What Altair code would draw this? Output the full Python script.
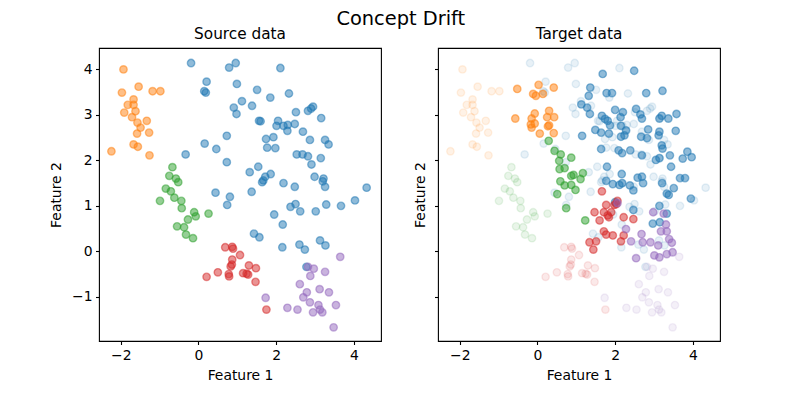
import altair as alt
import pandas as pd

# ---------------- Source data (left panel) ----------------
src_blue = [(-0.19, 4.14), (0.79, 4.04), (0.96, 4.14), (0.21, 3.73), (0.99, 3.68),
            (0.15, 3.52), (0.19, 3.49), (1.12, 3.30), (0.91, 3.16), (0.98, 3.02),
            (0.73, 2.54), (0.16, 2.37), (0.46, 2.25), (-0.33, 2.13), (0.73, 1.96),
            (0.44, 1.29), (0.81, 1.20), (0.74, 1.02),
            (2.11, 4.03), (1.51, 3.55), (1.85, 3.38), (2.33, 3.47), (1.38, 3.20),
            (2.51, 3.06), (2.82, 3.09), (2.90, 3.14), (2.95, 3.18), (3.16, 2.93),
            (1.56, 2.87), (1.60, 2.86), (2.05, 2.87), (2.01, 2.76), (2.19, 2.76),
            (2.30, 2.78), (2.48, 2.80), (2.29, 2.65), (2.69, 2.63), (2.87, 2.45),
            (3.26, 2.45), (3.35, 2.35), (1.74, 2.47), (1.93, 2.51), (1.77, 2.28),
            (1.98, 2.27), (2.53, 2.13), (2.68, 2.13), (2.82, 2.09), (3.15, 2.05),
            (2.91, 1.91), (1.54, 1.86), (1.32, 1.74), (1.86, 1.70), (1.72, 1.64),
            (1.67, 1.56), (1.64, 1.52), (2.99, 1.64), (3.22, 1.60), (3.20, 1.54),
            (3.26, 1.42), (2.19, 1.50), (2.48, 1.42), (1.37, 1.31), (4.33, 1.40),
            (4.03, 1.12),
            (2.37, 0.98), (2.50, 1.04), (2.62, 0.88), (3.02, 0.88), (3.29, 1.03),
            (3.67, 1.00), (1.95, 0.81), (2.17, 0.59), (1.43, 0.39), (1.57, 0.31),
            (2.16, 0.09), (2.60, 0.15), (2.74, 0.04), (3.13, 0.24), (3.27, 0.13),
            (2.78, -0.34)]
src_orange = [(-1.93, 4.00), (-1.54, 3.62), (-1.97, 3.49), (-1.18, 3.52), (-0.98, 3.52),
              (-1.67, 3.34), (-1.82, 3.22), (-1.67, 3.22), (-1.62, 3.08), (-1.91, 3.05),
              (-1.71, 2.95), (-1.33, 2.87), (-1.57, 2.83), (-1.49, 2.72), (-1.27, 2.61),
              (-1.58, 2.59), (-1.67, 2.35), (-1.56, 2.30), (-2.24, 2.20), (-1.26, 2.11)]
src_green = [(-0.67, 1.85), (-0.75, 1.66), (-0.58, 1.60), (-0.52, 1.52), (-0.84, 1.38),
             (-0.71, 1.32), (-0.62, 1.18), (-0.99, 1.11), (-0.44, 1.11), (-0.43, 0.95),
             (-0.11, 0.86), (-0.07, 0.77), (0.26, 0.83), (-0.27, 0.70), (-0.55, 0.55),
             (-0.37, 0.53), (-0.32, 0.37), (-0.14, 0.29)]
src_red = [(0.69, 0.09), (0.87, 0.10), (0.89, 0.06), (1.07, -0.08), (0.87, -0.18),
           (0.83, -0.33), (0.86, -0.29), (0.50, -0.46), (0.78, -0.50), (0.79, -0.55),
           (0.21, -0.56), (1.15, -0.48), (1.24, -0.49), (1.28, -0.51), (1.30, -0.31),
           (1.48, -0.37), (1.47, -0.67), (1.75, -1.28)]
src_purple = [(2.82, -0.34), (2.97, -0.38), (3.65, -0.12), (3.26, -0.45), (2.88, -0.54),
              (2.61, -0.72), (3.12, -0.83), (3.36, -0.90), (2.79, -0.90), (2.70, -1.01),
              (1.73, -1.02), (2.87, -1.12), (3.09, -1.18), (3.54, -1.18), (2.29, -1.24),
              (2.55, -1.28), (3.13, -1.28), (2.95, -1.34), (3.19, -1.34), (3.48, -1.67)]

# ---------------- Target data (right panel) ----------------
tgt_blue = [(1.68, 3.90), (1.36, 3.60), (1.32, 3.42), (1.78, 3.48), (1.13, 3.23),
            (1.28, 3.16), (1.35, 3.02), (1.66, 2.98), (1.74, 2.91), (1.81, 2.87),
            (1.49, 2.67), (1.64, 2.61), (1.84, 2.59), (1.15, 2.54), (1.64, 2.25),
            (2.49, 3.97), (1.92, 3.48), (2.80, 3.48), (3.22, 3.53), (2.00, 3.11),
            (2.20, 3.06), (2.54, 3.13), (2.65, 3.01), (2.69, 2.92), (2.14, 2.95),
            (1.87, 2.77), (2.15, 2.76), (3.14, 2.92), (3.20, 2.98), (3.37, 2.92),
            (3.58, 3.02), (2.28, 2.66), (2.24, 2.55), (2.15, 2.52), (2.85, 2.68),
            (3.14, 2.63), (3.12, 2.55), (3.56, 2.65), (2.67, 2.52), (2.82, 2.49),
            (3.20, 2.33), (3.22, 2.26), (2.09, 2.22), (2.18, 2.16), (2.39, 2.22),
            (2.69, 2.11), (3.14, 2.05), (3.41, 2.11), (3.86, 2.19), (3.97, 2.07),
            (3.74, 2.04), (3.05, 2.01), (3.44, 1.86), (1.79, 1.86), (2.17, 1.70),
            (2.58, 1.62), (2.69, 1.64), (2.72, 1.50), (3.67, 1.61), (3.80, 1.61),
            (1.77, 1.55), (1.94, 1.48), (2.11, 1.46), (2.18, 1.50), (2.38, 1.45),
            (2.47, 1.34), (3.21, 1.50), (3.51, 1.39), (3.33, 1.27), (3.38, 1.24),
            (3.95, 1.16), (2.00, 1.08), (3.14, 1.00), (2.47, 0.91), (3.33, 0.83),
            (2.97, 0.61), (3.15, 0.64)]
tgt_orange = [(-0.52, 3.57), (0.03, 3.66), (0.42, 3.60), (-0.11, 3.46), (-0.04, 3.42),
              (0.14, 3.46), (-0.57, 2.92), (-0.07, 3.03), (0.30, 3.09), (-0.15, 2.92),
              (-0.17, 2.79), (-0.07, 2.81), (-0.15, 2.72), (0.25, 2.95), (0.43, 2.95),
              (0.30, 2.77), (0.27, 2.75), (0.06, 2.59), (0.42, 2.60)]
tgt_green = [(0.29, 2.43), (0.44, 2.21), (0.60, 2.13), (0.87, 2.06), (0.56, 1.99),
             (0.57, 1.81), (0.70, 1.83), (1.17, 1.72), (0.93, 1.68), (0.87, 1.66),
             (1.11, 1.59), (0.59, 1.54), (0.70, 1.45), (0.87, 1.46), (0.98, 1.35),
             (0.51, 1.26), (0.74, 0.95), (1.23, 0.68)]
tgt_red = [(1.66, 1.32), (1.77, 1.02), (1.98, 1.02), (2.06, 1.11), (2.03, 1.04),
           (1.47, 0.86), (1.71, 0.86), (1.81, 0.79), (1.90, 0.86), (1.60, 0.68),
           (1.84, 0.75), (2.22, 0.75), (2.47, 0.71), (1.71, 0.44), (1.77, 0.37),
           (1.94, 0.35), (2.22, 0.35), (2.15, 0.22), (1.34, 0.20), (1.51, 0.22),
           (1.44, 0.04)]
tgt_purple = [(2.06, 1.06), (2.98, 0.86), (3.25, 0.83), (3.31, 0.59), (2.28, 0.49),
              (2.68, 0.38), (2.41, 0.22), (2.71, 0.20), (2.91, 0.20), (3.11, 0.13),
              (3.18, 0.44), (3.33, 0.44), (3.39, 0.27), (3.46, 0.19), (2.54, -0.15),
              (3.01, -0.09), (3.14, -0.13), (3.33, -0.06), (3.48, -0.02)]

class_names = ["0", "1", "2", "3", "4"]
class_colors = ["#1f77b4", "#ff7f0e", "#2ca02c", "#d62728", "#9467bd"]

x_ticks = [-2, 0, 2, 4]
y_ticks = [-1, 0, 1, 2, 3, 4]


def to_frame(groups):
    rows = []
    for cls, pts in zip(class_names, groups):
        for (x, y) in pts:
            rows.append({"x": x, "y": y, "cls": cls})
    return pd.DataFrame(rows)


src_df = to_frame([src_blue, src_orange, src_green, src_red, src_purple])
tgt_df = to_frame([tgt_blue, tgt_orange, tgt_green, tgt_red, tgt_purple])

FONT = "DejaVu Sans"
xscale = alt.Scale(domain=[-2.56, 4.70], nice=False, zero=False)
yscale = alt.Scale(domain=[-1.97, 4.47], nice=False, zero=False)
cscale = alt.Scale(domain=class_names, range=class_colors)
W, H = 282, 293


def points(df, alpha, show_ylabels):
    return alt.Chart(df).mark_point(
        filled=True, shape="circle", size=55,
        fillOpacity=alpha, strokeOpacity=alpha, strokeWidth=1.4,
    ).encode(
        x=alt.X("x:Q", scale=xscale,
                axis=alt.Axis(values=x_ticks, title="Feature 1", format="d")),
        y=alt.Y("y:Q", scale=yscale,
                axis=alt.Axis(values=y_ticks, title="Feature 2", format="d",
                              labels=show_ylabels,
                              titlePadding=8 if show_ylabels else 6)),
        color=alt.Color("cls:N", scale=cscale, legend=None),
        stroke=alt.Stroke("cls:N", scale=cscale, legend=None),
    )


left = points(src_df, 0.5, True).properties(
    width=W, height=H,
    title=alt.TitleParams("Source data", frame="group", fontSize=15.3,
                          font=FONT, fontWeight="normal", offset=6),
)
right = alt.layer(
    points(src_df, 0.1, False),
    points(tgt_df, 0.5, False),
).properties(
    width=W, height=H,
    title=alt.TitleParams("Target data", frame="group", fontSize=15.3,
                          font=FONT, fontWeight="normal", offset=6),
)

chart = alt.hconcat(left, right, spacing=31).properties(
    title=alt.TitleParams("Concept Drift", fontSize=19.4, font=FONT,
                          fontWeight="normal", anchor="middle", offset=-3, dx=16),
    padding={"left": 40, "top": 0, "right": 5, "bottom": 5},
).configure_view(
    stroke="black", strokeWidth=1.1
).configure_axis(
    grid=False, domain=False,
    tickColor="black", tickSize=3.5, tickWidth=1.1,
    labelFont=FONT, labelFontSize=13.9, labelColor="black", labelPadding=3.5,
    titleFont=FONT, titleFontSize=13.9, titleColor="black", titleFontWeight="normal",
).configure_axisX(titlePadding=7).configure_title(color="black")

chart.save("out.html", embed_options={"renderer": "svg", "actions": False})
